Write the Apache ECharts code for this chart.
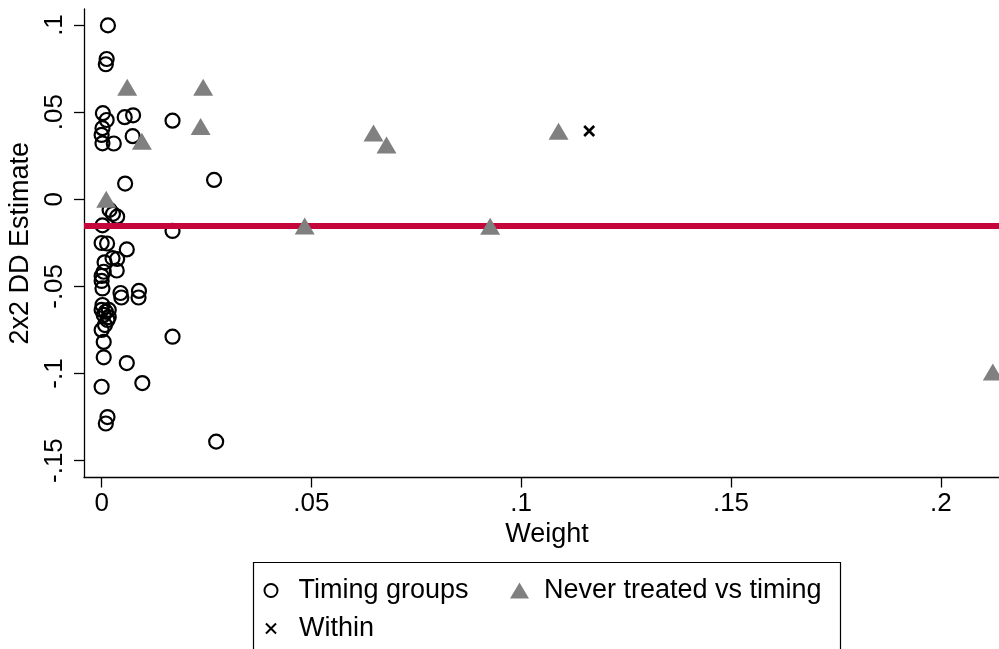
<!DOCTYPE html>
<html>
<head>
<meta charset="utf-8">
<script src="https://cdn.jsdelivr.net/npm/echarts@6/dist/echarts.min.js"></script>
<style>
html,body{margin:0;padding:0;background:#fff;}
#chart{width:999px;height:649px;}
</style>
</head>
<body>
<div id="chart"></div>
<script>
// ---- data (weight, 2x2 DD estimate) ----
const timingGroups = [
  [0.0015, 0.0998], [0.0012, 0.0805], [0.0010, 0.0775], [0.0003, 0.0494],
  [0.0012, 0.0455], [0.0055, 0.0471], [0.0075, 0.0482], [0.0169, 0.0451],
  [0.0002, 0.0408], [0.0000, 0.0369], [0.0002, 0.0321], [0.0029, 0.0320],
  [0.0074, 0.0362], [0.0056, 0.0090], [0.0268, 0.0111], [0.0019, -0.0061],
  [0.0027, -0.0084], [0.0037, -0.0100], [0.0002, -0.0150], [0.0169, -0.0182],
  [0.0000, -0.0251], [0.0013, -0.0254], [0.0060, -0.0288], [0.0026, -0.0338],
  [0.0037, -0.0343], [0.0007, -0.0362], [0.0036, -0.0409], [0.0005, -0.0416],
  [0.0000, -0.0440], [0.0000, -0.0469], [0.0002, -0.0512], [0.0045, -0.0538],
  [0.0047, -0.0564], [0.0089, -0.0526], [0.0088, -0.0564], [0.0002, -0.0607],
  [0.0000, -0.0635], [0.0010, -0.0645], [0.0017, -0.0635], [0.0005, -0.0664],
  [0.0017, -0.0676], [0.0014, -0.0693], [0.0008, -0.0722], [0.0000, -0.0750],
  [0.0005, -0.0819], [0.0169, -0.0789], [0.0005, -0.0907], [0.0060, -0.0940],
  [0.0000, -0.1076], [0.0097, -0.1055], [0.0014, -0.1250], [0.0010, -0.1287],
  [0.0273, -0.1391]
];
const neverTreated = [
  [0.0061, 0.0643], [0.0242, 0.0643], [0.0236, 0.0417], [0.0096, 0.0333],
  [0.0011, 0.0000], [0.0648, 0.0381], [0.0679, 0.0312], [0.1089, 0.0390],
  [0.0484, -0.0153], [0.0926, -0.0155], [0.2124, -0.0991]
];
const within = [[0.1162, 0.0392]];
const overallEstimate = -0.0153;

const xRange = [-0.0042, 0.2165];
const yRange = [-0.1597, 0.1092];
const xTickValues = [0, 0.05, 0.1, 0.15, 0.2];
const yTickValues = [-0.15, -0.1, -0.05, 0, 0.05, 0.1];
const xTitle = 'Weight';
const yTitle = '2x2 DD Estimate';
const seriesNames = ['Timing groups', 'Never treated vs timing', 'Within'];

function fmt(v) {
  if (Math.abs(v) < 1e-12) return '0';
  const s = String(+v.toFixed(4));
  return s.replace('0.', '.');
}

const FONT = 'Liberation Sans, Arial, Helvetica, sans-serif';
const chart = echarts.init(document.getElementById('chart'), null, {renderer: 'canvas'});

const legendBase = {
  orient: 'horizontal',
  padding: 0,
  itemGap: 0,
  selectedMode: false,
  textStyle: {fontFamily: FONT, fontSize: 27, color: '#000'}
};

chart.setOption({
  animation: false,
  backgroundColor: '#fff',
  grid: {left: 84, top: 9, right: -11, bottom: 171.5, containLabel: false, outerBoundsMode: 'none'},
  xAxis: {
    type: 'value',
    min: xRange[0], max: xRange[1],
    name: xTitle, nameLocation: 'middle', nameGap: 41,
    nameTextStyle: {fontFamily: FONT, fontSize: 27, color: '#000'},
    axisLine: {onZero: false, lineStyle: {color: '#000', width: 1.3}},
    axisTick: {show: true, length: 10, customValues: xTickValues, lineStyle: {color: '#000', width: 1.3}},
    axisLabel: {customValues: xTickValues, formatter: fmt, margin: 13,
      fontFamily: FONT, fontSize: 26, color: '#000'},
    splitLine: {show: false}
  },
  yAxis: {
    type: 'value',
    min: yRange[0], max: yRange[1],
    name: yTitle, nameLocation: 'middle', nameGap: 49, nameRotate: 90,
    nameTextStyle: {fontFamily: FONT, fontSize: 27, color: '#000'},
    axisLine: {onZero: false, lineStyle: {color: '#000', width: 1.3}},
    axisTick: {show: true, length: 10, customValues: yTickValues, lineStyle: {color: '#000', width: 1.3}},
    axisLabel: {customValues: yTickValues, formatter: fmt, rotate: 90, margin: 16,
      fontFamily: FONT, fontSize: 26, color: '#000'},
    splitLine: {show: false}
  },
  legend: [
    Object.assign({}, legendBase, {
      data: [{name: seriesNames[0], icon: 'circle'}],
      left: 263.5, top: 577, itemWidth: 13, itemHeight: 13,
      textStyle: Object.assign({}, legendBase.textStyle, {padding: [0, 0, 0, 16]})
    }),
    Object.assign({}, legendBase, {
      data: [{name: seriesNames[1], icon: 'triangle'}],
      left: 510, top: 577, itemWidth: 19, itemHeight: 16,
      textStyle: Object.assign({}, legendBase.textStyle, {padding: [0, 0, 0, 10]})
    }),
    Object.assign({}, legendBase, {
      data: [{name: seriesNames[2]}],
      left: 265, top: 615, itemWidth: 10, itemHeight: 10,
      textStyle: Object.assign({}, legendBase.textStyle, {padding: [0, 0, 0, 18]})
    })
  ],
  graphic: [{
    type: 'rect', silent: true, z: -1,
    shape: {x: 253.5, y: 562.5, width: 587, height: 120},
    style: {fill: '#fff', stroke: '#000', lineWidth: 1.2}
  }],
  series: [
    {
      type: 'line', silent: true, symbol: 'none', z: 3,
      data: [[xRange[0], overallEstimate], [xRange[1], overallEstimate]],
      lineStyle: {color: '#c4063a', width: 6}
    },
    {
      name: seriesNames[0], type: 'scatter', z: 2,
      symbol: 'circle', symbolSize: 14,
      itemStyle: {color: 'rgba(255,255,255,0)', borderColor: '#000', borderWidth: 2.2, opacity: 1},
      data: timingGroups
    },
    {
      name: seriesNames[1], type: 'scatter', z: 4,
      symbol: 'triangle', symbolSize: [20, 17],
      itemStyle: {color: '#808080', opacity: 1},
      data: neverTreated
    },
    {
      name: seriesNames[2], type: 'scatter', z: 4,
      symbol: 'path://M0,0L10,10M10,0L0,10', symbolSize: 10,
      itemStyle: {color: 'rgba(0,0,0,0)', borderColor: '#000', borderWidth: 2.6, opacity: 1},
      data: within
    }
  ]
});
</script>
</body>
</html>
